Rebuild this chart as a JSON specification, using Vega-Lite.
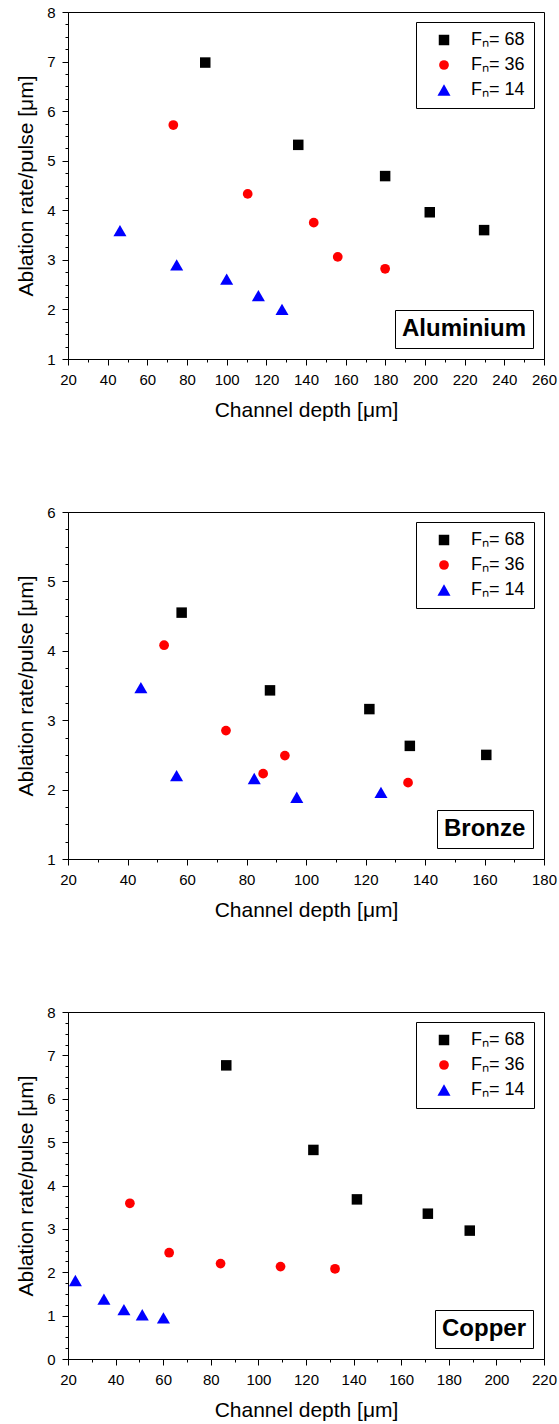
{
  "$schema": "https://vega.github.io/schema/vega-lite/v6.json",
  "background": "white",
  "padding": {"left": 15, "top": 4, "right": 10, "bottom": 0},
  "config": {
    "font": "Liberation Sans",
    "view": {"stroke": "black", "strokeWidth": 1},
    "axis": {
      "grid": false,
      "domainColor": "black",
      "domainWidth": 1,
      "tickColor": "black",
      "tickWidth": 1,
      "labelColor": "black",
      "titleColor": "black",
      "labelFont": "Liberation Sans",
      "titleFont": "Liberation Sans",
      "labelFontSize": 15,
      "titleFontSize": 21,
      "titleFontWeight": "normal",
      "labelOverlap": false,
      "labelFlush": false
    },
    "axisX": {"labelPadding": 7, "titlePadding": 12},
    "axisY": {"labelPadding": 7, "titlePadding": 10, "format": "d"},
    "legend": {
      "labelFont": "Liberation Sans",
      "labelColor": "black"
    }
  },
  "data": {
    "values": [
      {"material": "Aluminium", "fn": "68", "depth": 89.2, "rate": 6.98},
      {"material": "Aluminium", "fn": "68", "depth": 136.1, "rate": 5.32},
      {"material": "Aluminium", "fn": "68", "depth": 179.9, "rate": 4.69},
      {"material": "Aluminium", "fn": "68", "depth": 202.4, "rate": 3.96},
      {"material": "Aluminium", "fn": "68", "depth": 229.8, "rate": 3.6},
      {"material": "Aluminium", "fn": "36", "depth": 73.1, "rate": 5.72},
      {"material": "Aluminium", "fn": "36", "depth": 110.6, "rate": 4.33},
      {"material": "Aluminium", "fn": "36", "depth": 143.9, "rate": 3.75},
      {"material": "Aluminium", "fn": "36", "depth": 156.0, "rate": 3.06},
      {"material": "Aluminium", "fn": "36", "depth": 179.9, "rate": 2.82},
      {"material": "Aluminium", "fn": "14", "depth": 46.2, "rate": 3.59},
      {"material": "Aluminium", "fn": "14", "depth": 74.8, "rate": 2.9},
      {"material": "Aluminium", "fn": "14", "depth": 100.0, "rate": 2.61},
      {"material": "Aluminium", "fn": "14", "depth": 116.0, "rate": 2.28},
      {"material": "Aluminium", "fn": "14", "depth": 127.9, "rate": 2.0},
      {"material": "Bronze", "fn": "68", "depth": 58.2, "rate": 4.55},
      {"material": "Bronze", "fn": "68", "depth": 87.9, "rate": 3.43},
      {"material": "Bronze", "fn": "68", "depth": 121.3, "rate": 3.16},
      {"material": "Bronze", "fn": "68", "depth": 134.9, "rate": 2.63},
      {"material": "Bronze", "fn": "68", "depth": 160.6, "rate": 2.5},
      {"material": "Bronze", "fn": "36", "depth": 52.3, "rate": 4.08},
      {"material": "Bronze", "fn": "36", "depth": 73.1, "rate": 2.85},
      {"material": "Bronze", "fn": "36", "depth": 85.6, "rate": 2.23},
      {"material": "Bronze", "fn": "36", "depth": 92.9, "rate": 2.49},
      {"material": "Bronze", "fn": "36", "depth": 134.3, "rate": 2.1},
      {"material": "Bronze", "fn": "14", "depth": 44.5, "rate": 3.47},
      {"material": "Bronze", "fn": "14", "depth": 56.5, "rate": 2.2},
      {"material": "Bronze", "fn": "14", "depth": 82.6, "rate": 2.16},
      {"material": "Bronze", "fn": "14", "depth": 96.9, "rate": 1.89},
      {"material": "Bronze", "fn": "14", "depth": 125.2, "rate": 1.96},
      {"material": "Copper", "fn": "68", "depth": 86.5, "rate": 6.77},
      {"material": "Copper", "fn": "68", "depth": 123.1, "rate": 4.82},
      {"material": "Copper", "fn": "68", "depth": 141.4, "rate": 3.68},
      {"material": "Copper", "fn": "68", "depth": 171.2, "rate": 3.35},
      {"material": "Copper", "fn": "68", "depth": 188.8, "rate": 2.96},
      {"material": "Copper", "fn": "36", "depth": 46.0, "rate": 3.59},
      {"material": "Copper", "fn": "36", "depth": 62.5, "rate": 2.45},
      {"material": "Copper", "fn": "36", "depth": 84.1, "rate": 2.2},
      {"material": "Copper", "fn": "36", "depth": 109.3, "rate": 2.13},
      {"material": "Copper", "fn": "36", "depth": 132.2, "rate": 2.08},
      {"material": "Copper", "fn": "14", "depth": 23.1, "rate": 1.81},
      {"material": "Copper", "fn": "14", "depth": 35.1, "rate": 1.38},
      {"material": "Copper", "fn": "14", "depth": 43.5, "rate": 1.14},
      {"material": "Copper", "fn": "14", "depth": 51.2, "rate": 1.02},
      {"material": "Copper", "fn": "14", "depth": 60.1, "rate": 0.95}
    ]
  },
  "spacing": 83,
  "resolve": {
    "scale": {"color": "independent", "shape": "independent", "size": "independent", "strokeDash": "independent"}
  },
  "vconcat": [
    {
      "width": 476,
      "height": 347,
      "transform": [{"filter": "datum.material === 'Aluminium'"}],
      "mark": {"type": "point", "filled": true, "opacity": 1},
      "encoding": {
        "x": {
          "field": "depth", "type": "quantitative",
          "scale": {"domain": [20, 260], "nice": false, "zero": false},
          "axis": {
            "title": "Channel depth [μm]",
            "values": [20, 30, 40, 50, 60, 70, 80, 90, 100, 110, 120, 130, 140, 150, 160, 170, 180, 190, 200, 210, 220, 230, 240, 250, 260],
            "labelExpr": "datum.value % 20 === 0 ? datum.label : ''",
            "tickSize": {"condition": {"test": "datum.value % 20 === 0", "value": 6}, "value": 3}
          }
        },
        "y": {
          "field": "rate", "type": "quantitative",
          "scale": {"domain": [1, 8], "nice": false, "zero": false},
          "axis": {
            "title": "Ablation rate/pulse [μm]",
            "values": [1, 1.25, 1.5, 1.75, 2, 2.25, 2.5, 2.75, 3, 3.25, 3.5, 3.75, 4, 4.25, 4.5, 4.75, 5, 5.25, 5.5, 5.75, 6, 6.25, 6.5, 6.75, 7, 7.25, 7.5, 7.75, 8],
            "labelExpr": "datum.value % 1 === 0 ? datum.label : ''",
            "tickSize": {"condition": {"test": "datum.value % 1 === 0", "value": 6}, "value": 3}
          }
        },
        "color": {
          "field": "fn", "type": "ordinal",
          "scale": {"domain": ["68", "36", "14"], "range": ["#000000", "#ff0000", "#0000ff"]},
          "legend": {"title": null, "orient": "top-right", "offset": 10, "strokeColor": "black", "fillColor": "white", "padding": 9, "labelFontSize": 18, "rowPadding": 7, "symbolOffset": 10, "labelOffset": 18, "symbolStrokeWidth": 0, "labelExpr": "'Fₙ= ' + datum.label"}
        },
        "shape": {
          "field": "fn", "type": "ordinal",
          "scale": {"domain": ["68", "36", "14"], "range": ["square", "circle", "triangle-up"]},
          "legend": {"title": null, "orient": "top-right", "offset": 10, "strokeColor": "black", "fillColor": "white", "padding": 9, "labelFontSize": 18, "rowPadding": 7, "symbolOffset": 10, "labelOffset": 18, "symbolStrokeWidth": 0, "labelExpr": "'Fₙ= ' + datum.label"}
        },
        "size": {
          "field": "fn", "type": "ordinal",
          "scale": {"type": "ordinal", "domain": ["68", "36", "14"], "range": [110, 95, 170]},
          "legend": {"title": null, "orient": "top-right", "offset": 10, "strokeColor": "black", "fillColor": "white", "padding": 9, "labelFontSize": 18, "rowPadding": 7, "symbolOffset": 10, "labelOffset": 18, "symbolStrokeWidth": 0, "labelExpr": "'Fₙ= ' + datum.label"}
        },
        "strokeDash": {
          "field": "material", "type": "nominal",
          "legend": {"title": null, "orient": "bottom-right", "offset": 11, "strokeColor": "black", "fillColor": "white", "padding": 7, "labelFontSize": 24, "labelFontWeight": "bold", "symbolSize": 0, "symbolOpacity": 0, "symbolStrokeWidth": 0, "labelOffset": -24, "symbolOffset": 0}
        }
      }
    },
    {
      "width": 476,
      "height": 347,
      "transform": [{"filter": "datum.material === 'Bronze'"}],
      "mark": {"type": "point", "filled": true, "opacity": 1},
      "encoding": {
        "x": {
          "field": "depth", "type": "quantitative",
          "scale": {"domain": [20, 180], "nice": false, "zero": false},
          "axis": {
            "title": "Channel depth [μm]",
            "values": [20, 30, 40, 50, 60, 70, 80, 90, 100, 110, 120, 130, 140, 150, 160, 170, 180],
            "labelExpr": "datum.value % 20 === 0 ? datum.label : ''",
            "tickSize": {"condition": {"test": "datum.value % 20 === 0", "value": 6}, "value": 3}
          }
        },
        "y": {
          "field": "rate", "type": "quantitative",
          "scale": {"domain": [1, 6], "nice": false, "zero": false},
          "axis": {
            "title": "Ablation rate/pulse [μm]",
            "values": [1, 1.25, 1.5, 1.75, 2, 2.25, 2.5, 2.75, 3, 3.25, 3.5, 3.75, 4, 4.25, 4.5, 4.75, 5, 5.25, 5.5, 5.75, 6],
            "labelExpr": "datum.value % 1 === 0 ? datum.label : ''",
            "tickSize": {"condition": {"test": "datum.value % 1 === 0", "value": 6}, "value": 3}
          }
        },
        "color": {
          "field": "fn", "type": "ordinal",
          "scale": {"domain": ["68", "36", "14"], "range": ["#000000", "#ff0000", "#0000ff"]},
          "legend": {"title": null, "orient": "top-right", "offset": 10, "strokeColor": "black", "fillColor": "white", "padding": 9, "labelFontSize": 18, "rowPadding": 7, "symbolOffset": 10, "labelOffset": 18, "symbolStrokeWidth": 0, "labelExpr": "'Fₙ= ' + datum.label"}
        },
        "shape": {
          "field": "fn", "type": "ordinal",
          "scale": {"domain": ["68", "36", "14"], "range": ["square", "circle", "triangle-up"]},
          "legend": {"title": null, "orient": "top-right", "offset": 10, "strokeColor": "black", "fillColor": "white", "padding": 9, "labelFontSize": 18, "rowPadding": 7, "symbolOffset": 10, "labelOffset": 18, "symbolStrokeWidth": 0, "labelExpr": "'Fₙ= ' + datum.label"}
        },
        "size": {
          "field": "fn", "type": "ordinal",
          "scale": {"type": "ordinal", "domain": ["68", "36", "14"], "range": [110, 95, 170]},
          "legend": {"title": null, "orient": "top-right", "offset": 10, "strokeColor": "black", "fillColor": "white", "padding": 9, "labelFontSize": 18, "rowPadding": 7, "symbolOffset": 10, "labelOffset": 18, "symbolStrokeWidth": 0, "labelExpr": "'Fₙ= ' + datum.label"}
        },
        "strokeDash": {
          "field": "material", "type": "nominal",
          "legend": {"title": null, "orient": "bottom-right", "offset": 11, "strokeColor": "black", "fillColor": "white", "padding": 7, "labelFontSize": 24, "labelFontWeight": "bold", "symbolSize": 0, "symbolOpacity": 0, "symbolStrokeWidth": 0, "labelOffset": -24, "symbolOffset": 0}
        }
      }
    },
    {
      "width": 476,
      "height": 347,
      "transform": [{"filter": "datum.material === 'Copper'"}],
      "mark": {"type": "point", "filled": true, "opacity": 1},
      "encoding": {
        "x": {
          "field": "depth", "type": "quantitative",
          "scale": {"domain": [20, 220], "nice": false, "zero": false},
          "axis": {
            "title": "Channel depth [μm]",
            "values": [20, 30, 40, 50, 60, 70, 80, 90, 100, 110, 120, 130, 140, 150, 160, 170, 180, 190, 200, 210, 220],
            "labelExpr": "datum.value % 20 === 0 ? datum.label : ''",
            "tickSize": {"condition": {"test": "datum.value % 20 === 0", "value": 6}, "value": 3}
          }
        },
        "y": {
          "field": "rate", "type": "quantitative",
          "scale": {"domain": [0, 8], "nice": false, "zero": false},
          "axis": {
            "title": "Ablation rate/pulse [μm]",
            "values": [0, 0.25, 0.5, 0.75, 1, 1.25, 1.5, 1.75, 2, 2.25, 2.5, 2.75, 3, 3.25, 3.5, 3.75, 4, 4.25, 4.5, 4.75, 5, 5.25, 5.5, 5.75, 6, 6.25, 6.5, 6.75, 7, 7.25, 7.5, 7.75, 8],
            "labelExpr": "datum.value % 1 === 0 ? datum.label : ''",
            "tickSize": {"condition": {"test": "datum.value % 1 === 0", "value": 6}, "value": 3}
          }
        },
        "color": {
          "field": "fn", "type": "ordinal",
          "scale": {"domain": ["68", "36", "14"], "range": ["#000000", "#ff0000", "#0000ff"]},
          "legend": {"title": null, "orient": "top-right", "offset": 10, "strokeColor": "black", "fillColor": "white", "padding": 9, "labelFontSize": 18, "rowPadding": 7, "symbolOffset": 10, "labelOffset": 18, "symbolStrokeWidth": 0, "labelExpr": "'Fₙ= ' + datum.label"}
        },
        "shape": {
          "field": "fn", "type": "ordinal",
          "scale": {"domain": ["68", "36", "14"], "range": ["square", "circle", "triangle-up"]},
          "legend": {"title": null, "orient": "top-right", "offset": 10, "strokeColor": "black", "fillColor": "white", "padding": 9, "labelFontSize": 18, "rowPadding": 7, "symbolOffset": 10, "labelOffset": 18, "symbolStrokeWidth": 0, "labelExpr": "'Fₙ= ' + datum.label"}
        },
        "size": {
          "field": "fn", "type": "ordinal",
          "scale": {"type": "ordinal", "domain": ["68", "36", "14"], "range": [110, 95, 170]},
          "legend": {"title": null, "orient": "top-right", "offset": 10, "strokeColor": "black", "fillColor": "white", "padding": 9, "labelFontSize": 18, "rowPadding": 7, "symbolOffset": 10, "labelOffset": 18, "symbolStrokeWidth": 0, "labelExpr": "'Fₙ= ' + datum.label"}
        },
        "strokeDash": {
          "field": "material", "type": "nominal",
          "legend": {"title": null, "orient": "bottom-right", "offset": 11, "strokeColor": "black", "fillColor": "white", "padding": 7, "labelFontSize": 24, "labelFontWeight": "bold", "symbolSize": 0, "symbolOpacity": 0, "symbolStrokeWidth": 0, "labelOffset": -24, "symbolOffset": 0}
        }
      }
    }
  ]
}
